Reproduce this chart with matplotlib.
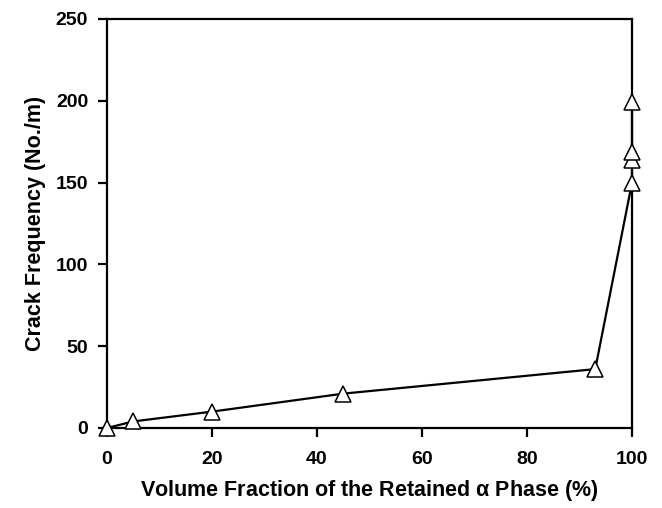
import matplotlib
matplotlib.use('Agg')
import matplotlib.pyplot as plt

# data
vol_frac = [0, 5, 20, 45, 93, 100, 100, 100, 100]
crack_freq = [0, 4, 10, 21, 36, 150, 164, 169, 199]

plt.rcParams['font.family'] = ['Liberation Sans', 'DejaVu Sans']

fig = plt.figure(figsize=(6.62, 5.08), dpi=100)
ax = fig.add_axes([0.1616, 0.1575, 0.7931, 0.8051])

ax.plot(vol_frac, crack_freq, color='black', linewidth=1.6,
        marker='^', markersize=11.5, markerfacecolor='white',
        markeredgecolor='black', markeredgewidth=1.1, clip_on=False, zorder=3)

ax.set_xlim(0, 100)
ax.set_ylim(0, 250)
ax.set_xticks([0, 20, 40, 60, 80, 100])
ax.set_yticks([0, 50, 100, 150, 200, 250])

for s in ax.spines.values():
    s.set_linewidth(1.6)

ax.tick_params(direction='out', length=6.5, width=1.6, labelsize=14)
ax.tick_params(axis='x', pad=10)
ax.tick_params(axis='y', pad=7)
for lab in ax.get_xticklabels() + ax.get_yticklabels():
    lab.set_fontweight('bold')

ax.set_xlabel('Volume Fraction of the Retained $\\mathregular{\\alpha}$ Phase (%)',
              fontsize=15.5, fontweight='bold', labelpad=7)
ax.set_ylabel('Crack Frequency (No./m)', fontsize=15.5, fontweight='bold', labelpad=7)

plt.savefig('out.png', dpi=100)
